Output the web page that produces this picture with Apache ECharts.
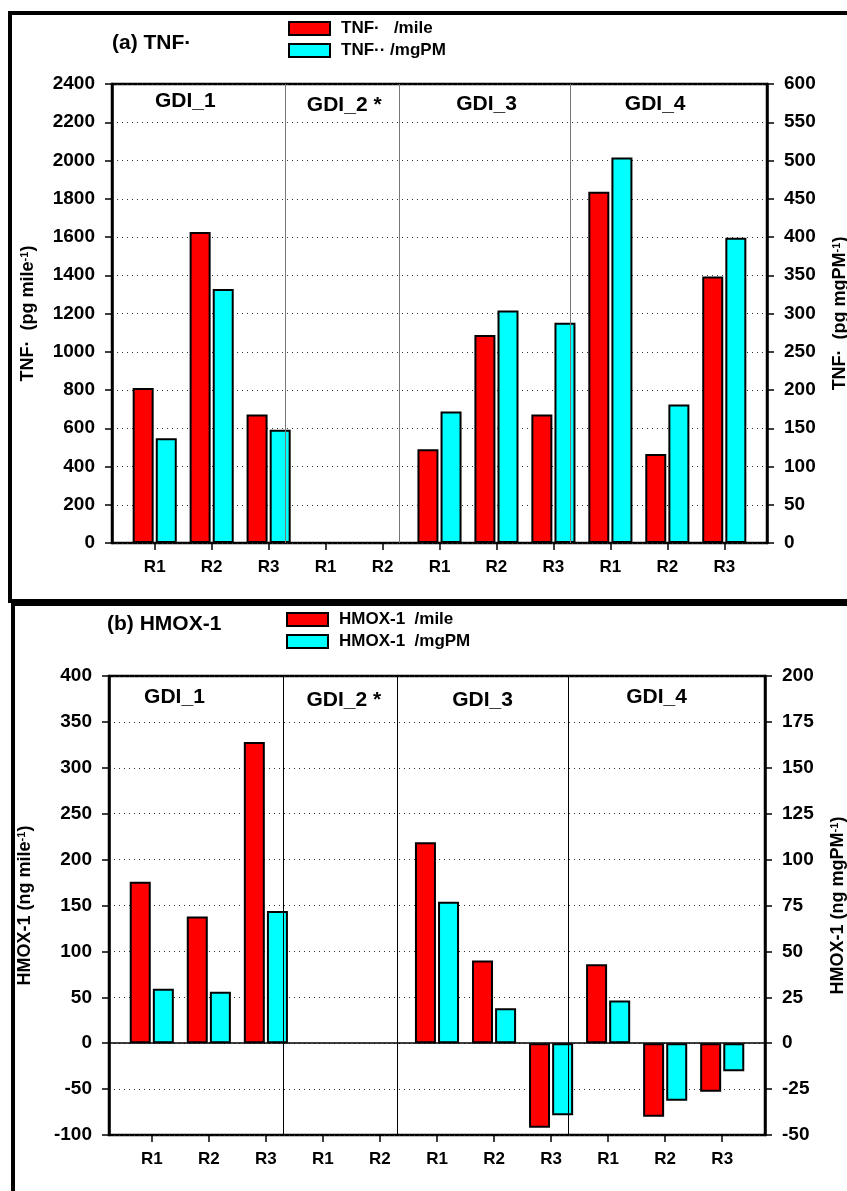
<!DOCTYPE html>
<html>
<head>
<meta charset="utf-8">
<script src="https://cdn.jsdelivr.net/npm/echarts@6/dist/echarts.min.js"></script>
<style>
html,body{margin:0;padding:0;background:#fff;}
#chart{width:847px;height:1191px;}
</style>
</head>
<body>
<div id="chart"></div>
<script>
// ---- data ----
const xLabels = ['R1','R2','R3','R1','R2','R1','R2','R3','R1','R2','R3'];
const groupLabels = ['GDI_1','GDI_2 *','GDI_3','GDI_4'];

// Panel (a) TNF
const tnfMile = [811, 1626, 672, null, null, 490, 1087, 672, 1836, 466, 1393];     // pg mile-1 (left axis)
const tnfMgPM = [137, 332, 148, null, null, 172, 304, 288, 504, 181, 399];        // pg mgPM-1 (right axis)
const tnfLeftTicks = {min: 0, max: 2400, interval: 200};
const tnfRightTicks = {min: 0, max: 600, interval: 50};

// Panel (b) HMOX-1
const hmoxMile = [176, 138, 328, null, null, 219, 90, -92, 86, -80, -53];          // ng mile-1 (left axis)
const hmoxMgPM = [29.6, 28, 72, null, null, 77, 19, -39.3, 23.3, -31.3, -15.3];    // ng mgPM-1 (right axis)
const hmoxLeftTicks = {min: -100, max: 400, interval: 50};
const hmoxRightTicks = {min: -50, max: 200, interval: 25};

const seriesNames = {
  a: ['TNF\u00b7   /mile', 'TNF\u00b7\u00b7 /mgPM'],
  b: ['HMOX-1  /mile', 'HMOX-1  /mgPM']
};

// ---- helpers ----
const FF = '"Liberation Sans", Arial, sans-serif';
const idx = xLabels.map((_, i) => i);
function pairs(arr) { return arr.map((v, i) => [i, v]).filter(p => p[1] !== null); }

function xAxisFor(gridIndex) {
  return {
    type: 'value', gridIndex: gridIndex, min: -0.75, max: 10.75,
    axisLine: {show: false, onZero: false},
    splitLine: {show: false},
    axisTick: {show: true, customValues: idx, length: 7, inside: false,
      lineStyle: {color: '#000', width: 1.5}},
    axisLabel: {show: true, customValues: idx, margin: 16,
      formatter: v => xLabels[Math.round(v)],
      color: '#000', fontFamily: FF, fontWeight: 'bold', fontSize: 17}
  };
}
function yAxisFor(gridIndex, ticks, position, name, showSplit, nameGap) {
  return {
    type: 'value', gridIndex: gridIndex, position: position,
    min: ticks.min, max: ticks.max, interval: ticks.interval,
    name: name, nameLocation: 'middle', nameRotate: 90, nameGap: nameGap,
    nameTextStyle: {
      color: '#000',
      rich: {
        a: {fontFamily: FF, fontWeight: 'bold', fontSize: 18, color: '#000'},
        s: {fontFamily: FF, fontWeight: 'bold', fontSize: 11, color: '#000', verticalAlign: 'top'}
      }
    },
    axisLine: {show: true, onZero: false, lineStyle: {color: '#000', width: 2.5}},
    axisTick: {show: true, length: 7, inside: false, lineStyle: {color: '#000', width: 1.5}},
    axisLabel: {margin: 17, color: '#000', fontFamily: FF, fontWeight: 'bold', fontSize: 19,
      formatter: v => String(v)},
    splitLine: {show: showSplit, lineStyle: {color: '#333', width: 1, type: [1, 4]}}
  };
}
function barSeries(name, data, xi, yi, color, extra) {
  return Object.assign({
    type: 'bar', name: name, data: pairs(data),
    xAxisIndex: xi, yAxisIndex: yi,
    barWidth: 21, barGap: '10%',
    itemStyle: {color: color, borderColor: '#000', borderWidth: 2},
    emphasis: {disabled: true},
    animation: false
  }, extra || {});
}
function groupMarks(centers, yVals, sepColor, extraLines) {
  return {
    markLine: {
      silent: true, symbol: 'none', animation: false,
      label: {show: false},
      lineStyle: {color: sepColor, width: 1, type: 'solid'},
      data: [{xAxis: 2.5}, {xAxis: 4.5}, {xAxis: 7.5}].concat(extraLines || [])
    },
    markPoint: {
      silent: true, animation: false,
      symbol: 'rect', symbolSize: 1,
      itemStyle: {color: 'rgba(0,0,0,0)'},
      label: {show: true, position: 'inside', color: '#000',
        fontFamily: FF, fontWeight: 'bold', fontSize: 21, formatter: p => p.name},
      data: groupLabels.map((g, i) => ({name: g, coord: [centers[i], yVals[i]]}))
    }
  };
}

const chart = echarts.init(document.getElementById('chart'), null, {renderer: 'canvas'});

const legendCommon = {
  orient: 'vertical', itemWidth: 41, itemHeight: 13, itemGap: 5, icon: 'rect',
  selectedMode: false, padding: 0,
  textStyle: {fontFamily: FF, fontWeight: 'bold', fontSize: 17, color: '#000', padding: [0, 0, 0, 6]}
};

const option = {
  backgroundColor: '#fff',
  animation: false,
  title: [
    {text: '(a) TNF\u00b7', left: 112, top: 33, padding: 0,
      textStyle: {fontFamily: FF, fontWeight: 'bold', fontSize: 21, color: '#000'}},
    {text: '(b) HMOX-1', left: 107, top: 614, padding: 0,
      textStyle: {fontFamily: FF, fontWeight: 'bold', fontSize: 21, color: '#000'}}
  ],
  legend: [
    Object.assign({}, legendCommon, {data: seriesNames.a, left: 288, top: 20}),
    Object.assign({}, legendCommon, {data: seriesNames.b, left: 286, top: 611})
  ],
  graphic: [
    {type: 'rect', shape: {x: 10, y: 13, width: 900, height: 588}, silent: true,
      style: {fill: null, stroke: '#000', lineWidth: 4}},
    {type: 'rect', shape: {x: 13, y: 604, width: 900, height: 700}, silent: true,
      style: {fill: null, stroke: '#000', lineWidth: 4}}
  ],
  grid: [
    {left: 112, top: 84, width: 655, height: 459, show: true, borderColor: '#000', borderWidth: 2.5,
      backgroundColor: 'transparent', outerBoundsMode: 'none', containLabel: false},
    {left: 109, top: 676, width: 656, height: 459, show: true, borderColor: '#000', borderWidth: 2.5,
      backgroundColor: 'transparent', outerBoundsMode: 'none', containLabel: false}
  ],
  xAxis: [xAxisFor(0), xAxisFor(1)],
  yAxis: [
    yAxisFor(0, tnfLeftTicks, 'left', '{a|TNF\u00b7  (pg mile}{s|-1}{a|)}', true, 75),
    yAxisFor(0, tnfRightTicks, 'right', '{a|TNF\u00b7  (pg mgPM}{s|-1}{a|)}', false, 64),
    yAxisFor(1, hmoxLeftTicks, 'left', '{a|HMOX-1 (ng mile}{s|-1}{a|)}', true, 75),
    yAxisFor(1, hmoxRightTicks, 'right', '{a|HMOX-1 (ng mgPM}{s|-1}{a|)}', false, 64)
  ],
  series: [
    barSeries(seriesNames.a[0], tnfMile, 0, 0, '#ff0000',
      groupMarks([0.74, 3.53, 6.03, 8.99], [2310, 2290, 2292, 2292], '#777')),
    barSeries(seriesNames.a[1], tnfMgPM, 0, 1, '#00ffff'),
    barSeries(seriesNames.b[0], hmoxMile, 1, 2, '#ff0000',
      groupMarks([0.6, 3.57, 6.0, 9.05], [377, 374, 374, 377], '#000',
        [{yAxis: 0, lineStyle: {color: '#000', width: 1.5, type: 'solid'}}])),
    barSeries(seriesNames.b[1], hmoxMgPM, 1, 3, '#00ffff')
  ]
};
chart.setOption(option);
</script>
</body>
</html>
